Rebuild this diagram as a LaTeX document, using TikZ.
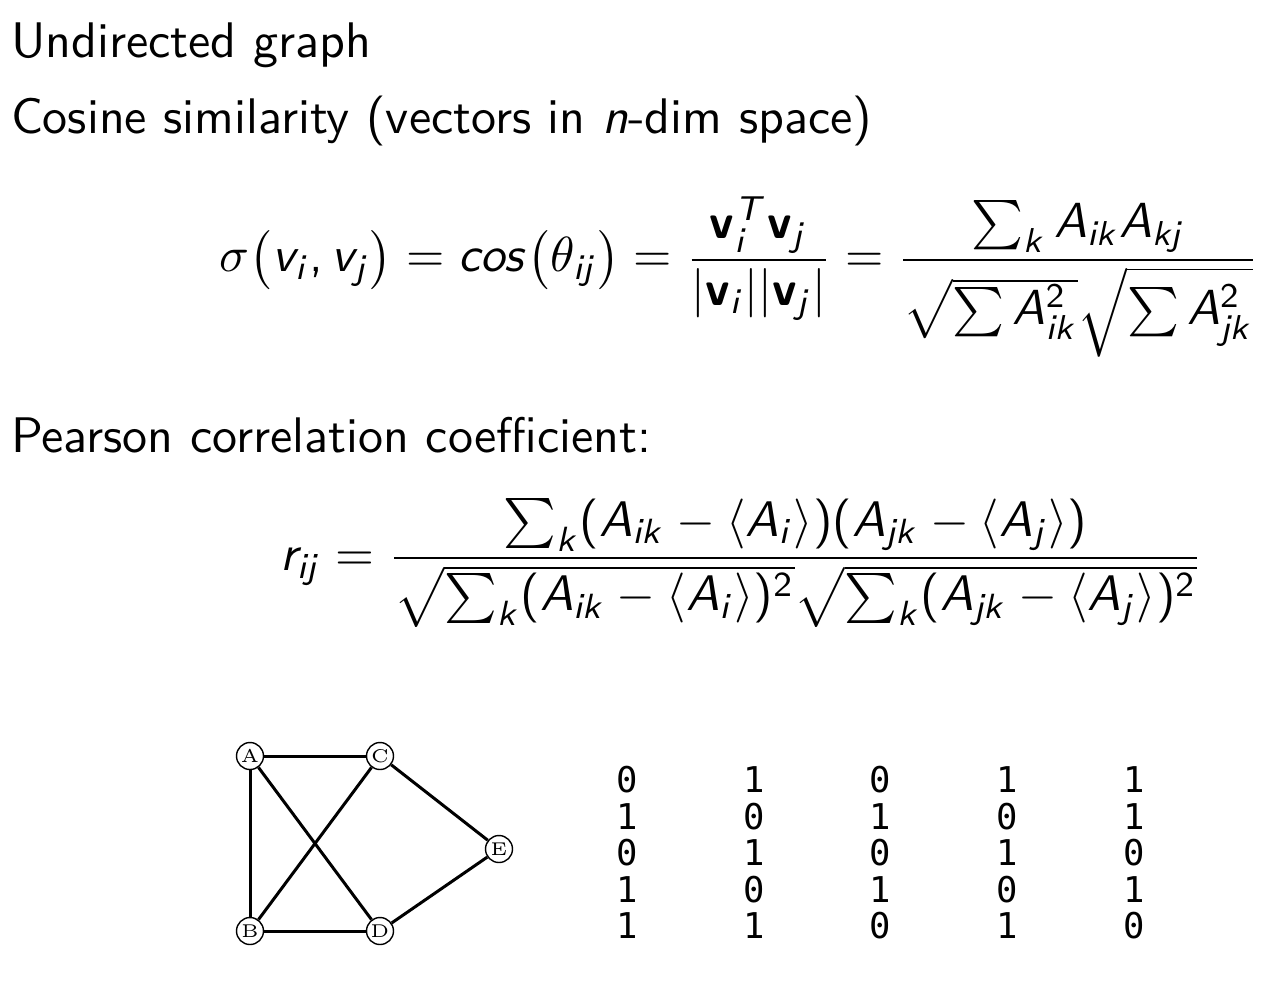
\documentclass[tikz,border=0pt]{standalone}
\usepackage{amsmath}
\usepackage[no-math]{fontspec}
\newfontfamily\digitfont{DejaVu Sans Mono}
% sans serif math, as on a beamer slide
\SetSymbolFont{operators}{normal}{OT1}{cmss}{m}{n}
\SetSymbolFont{letters}{normal}{OT1}{cmss}{m}{sl}
\SetMathAlphabet{\mathbf}{normal}{OT1}{cmss}{bx}{n}
\DeclareSymbolFont{greekletters}{OML}{cmm}{m}{it}
\DeclareMathSymbol{\sigma}{\mathord}{greekletters}{"1B}
\DeclareMathSymbol{\theta}{\mathord}{greekletters}{"12}
\DeclareMathSymbol{,}{\mathpunct}{operators}{"2C}

\tikzset{
  slidetext/.style={anchor=base west, inner sep=0pt, font=\sffamily},
  vertex/.style={draw, circle, line width=0.28pt, minimum size=5.4pt, inner sep=0pt, fill=white,
    font=\fontsize{3.7}{4}\selectfont},
  edge/.style={line width=0.6pt},
  digit/.style={inner sep=0pt, font=\digitfont\fontsize{7.1}{8}\selectfont}
}

\begin{document}
\begin{tikzpicture}[x=0.2pt, y=-0.2pt]
\useasboundingbox (0,0) rectangle (1280,1004);

\node[slidetext] (title) at (10,57) {Undirected graph};
\node[slidetext] (cosine) at (10,133) {Cosine similarity (vectors in \textit{n}-dim space)};
\node[slidetext] (pearson) at (10,452) {Pearson correlation coefficient:};

\node[anchor=west, inner sep=0pt, scale=0.986] (cosformula) at (219,277) {$\displaystyle
  \sigma\bigl(v_i, v_j\bigr) = cos\bigl(\theta_{ij}\bigr)
  = \frac{\mathbf{v}_i^T\mathbf{v}_j}{|\mathbf{v}_i||\mathbf{v}_j|}
  = \frac{\sum_k A_{ik}A_{kj}}{\sqrt{\sum A_{ik}^2}\sqrt{\sum A_{jk}^2}}$};

\node[anchor=west, inner sep=0pt] (pearsonformula) at (279,563) {$\displaystyle
  r_{ij} = \frac{\sum_k(A_{ik}-\langle A_i\rangle)(A_{jk}-\langle A_j\rangle)}
  {\sqrt{\sum_k(A_{ik}-\langle A_i\rangle)^2}\sqrt{\sum_k(A_{jk}-\langle A_j\rangle)^2}}$};

% graph
\node[vertex] (A) at (250,756) {A};
\node[vertex] (C) at (380,756) {C};
\node[vertex] (E) at (499,849) {E};
\node[vertex] (B) at (250,931) {B};
\node[vertex] (D) at (380,931) {D};

\draw[edge] (A) -- (C);
\draw[edge] (A) -- (B);
\draw[edge] (A) -- (D);
\draw[edge] (C) -- (B);
\draw[edge] (C) -- (E);
\draw[edge] (B) -- (D);
\draw[edge] (D) -- (E);

% adjacency matrix
\foreach \row [count=\r] in {{0,1,0,1,1},{1,0,1,0,1},{0,1,0,1,0},{1,0,1,0,1},{1,1,0,1,0}} {
  \foreach \v [count=\c] in \row {
    \node[digit] (m\r\c) at (500.25+126.75*\c, 743.5+36.5*\r) {\v};
  }
}
\end{tikzpicture}
\end{document}
